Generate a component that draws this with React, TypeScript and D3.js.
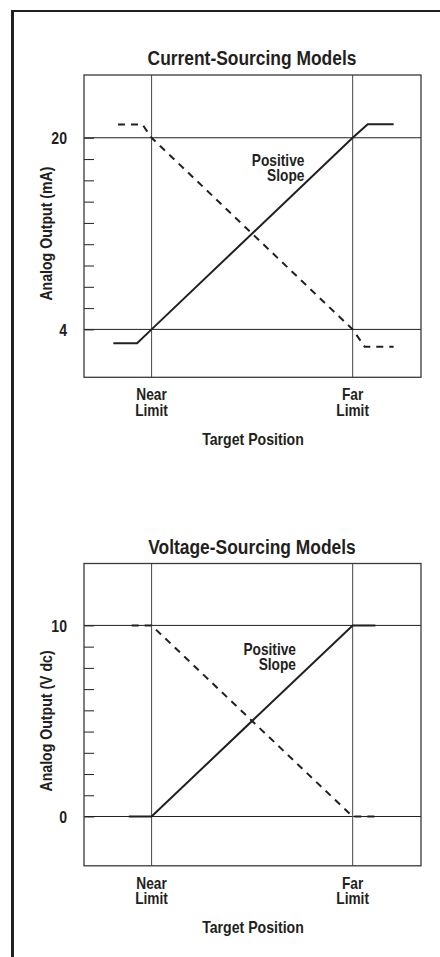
import React, { useEffect, useRef } from "react";
import * as d3 from "d3";

// target position in % of travel: near limit = 0, far limit = 100
const limitPositions = [0, 100];
const limitLabels = ["Near", "Far"];

const currentLabels = [4, 20];
const currentMinorTicks = 8;
const currentPositive = [
  { x: -19, y: 2.85 },
  { x: -7.2, y: 2.85 },
  { x: 0, y: 4 },
  { x: 100, y: 20 },
  { x: 107.5, y: 21.12 },
  { x: 120.4, y: 21.12 },
];
const currentNegative = [
  { x: -16.7, y: 21.1 },
  { x: -4.5, y: 21.1 },
  { x: 0, y: 20 },
  { x: 100, y: 4 },
  { x: 106, y: 2.55 },
  { x: 120.4, y: 2.55 },
];

const voltageLabels = [0, 10];
const voltageMinorTicks = 8;
const voltagePositive = [
  { x: -11.3, y: 0 },
  { x: 0, y: 0 },
  { x: 100, y: 10 },
  { x: 111.3, y: 10 },
];
const voltageNegative = [
  { x: -9.9, y: 10 },
  { x: 0, y: 10 },
  { x: 100, y: 0 },
  { x: 111.3, y: 0 },
];

const W = 440;
const H = 957;
const FONT = "'Liberation Sans','Arial',sans-serif";
const INK = "#231f20";

const drawPanel = (svg, o) => {
  const left = 84;
  const right = 421;
  const top = o.top;
  const bottom = o.top + 302.3;

  const x = d3.scaleLinear().domain([-33.6, 134]).range([left, right]);
  const y = d3.scaleLinear().domain(o.yDomain).range([bottom, top]);

  const g = svg.append("g");

  // title
  g.append("text")
    .attr("class", "title")
    .attr("x", 252)
    .attr("y", top - 10)
    .attr("text-anchor", "middle")
    .attr("font-size", 20)
    .text(o.title);

  // minor ticks, inside the box
  const [lo, hi] = d3.extent(o.labels);
  const ticks = d3.range(o.minor + 2).map((i) => lo + ((hi - lo) * i) / (o.minor + 1));
  const yaxis = d3.axisRight(y).tickValues(ticks).tickSize(10).tickFormat(() => "");
  const ga = g.append("g").attr("transform", `translate(${left},0)`).call(yaxis);
  ga.select(".domain").remove();
  ga.selectAll("text").remove();
  ga.selectAll("line").attr("stroke", INK).attr("stroke-width", 1);

  // grid lines at labelled values and at the limits
  g.selectAll(".hgrid")
    .data(o.labels)
    .join("line")
    .attr("x1", left)
    .attr("x2", right)
    .attr("y1", (d) => y(d))
    .attr("y2", (d) => y(d))
    .attr("stroke", INK)
    .attr("stroke-width", 1);
  g.selectAll(".vgrid")
    .data(limitPositions)
    .join("line")
    .attr("x1", (d) => x(d))
    .attr("x2", (d) => x(d))
    .attr("y1", top)
    .attr("y2", bottom)
    .attr("stroke", "#555")
    .attr("stroke-width", 1.1);

  // box
  g.append("rect")
    .attr("x", left)
    .attr("y", top)
    .attr("width", right - left)
    .attr("height", bottom - top)
    .attr("fill", "none")
    .attr("stroke", "#3a3a3a")
    .attr("stroke-width", 1.3);

  // y labels
  g.selectAll(".ylab")
    .data(o.labels)
    .join("text")
    .attr("x", 67)
    .attr("y", (d) => y(d))
    .attr("dy", "0.36em")
    .attr("text-anchor", "end")
    .attr("font-size", 17)
    .text((d) => d);

  const mid = (y(lo) + y(hi)) / 2;
  g.append("text")
    .attr("transform", `translate(52,${mid}) rotate(-90)`)
    .attr("text-anchor", "middle")
    .attr("font-size", 17)
    .text(o.yTitle);

  // limit labels
  limitPositions.forEach((p, i) => {
    g.append("text").attr("text-anchor", "middle").attr("font-size", 16.5)
      .attr("x", x(p)).attr("y", bottom + 23).text(limitLabels[i]);
    g.append("text").attr("text-anchor", "middle").attr("font-size", 16.5)
      .attr("x", x(p)).attr("y", bottom + 38.5).text("Limit");
  });
  g.append("text")
    .attr("x", 253)
    .attr("y", bottom + 67.5)
    .attr("text-anchor", "middle")
    .attr("font-size", 17)
    .text("Target Position");

  // positive slope label
  g.append("text").attr("text-anchor", "end").attr("font-size", 16.5)
    .attr("x", x(o.slopeX)).attr("y", top + 91).text("Positive");
  g.append("text").attr("text-anchor", "end").attr("font-size", 16.5)
    .attr("x", x(o.slopeX)).attr("y", top + 106).text("Slope");

  const line = d3
    .line()
    .x((d) => x(d.x))
    .y((d) => y(d.y));

  g.append("path")
    .attr("d", line(o.negative))
    .attr("fill", "none")
    .attr("stroke", INK)
    .attr("stroke-width", 2)
    .attr("stroke-dasharray", "7,6");
  g.append("path")
    .attr("d", line(o.positive))
    .attr("fill", "none")
    .attr("stroke", INK)
    .attr("stroke-width", 2);
};

const App = () => {
  const ref = useRef(null);

  useEffect(() => {
    const svg = d3.select(ref.current);
    svg.selectAll("*").remove();
    svg.attr("font-family", FONT).attr("font-weight", "bold").attr("fill", INK);

    // page frame
    svg.append("line").attr("x1", 11).attr("x2", W).attr("y1", 11).attr("y2", 11)
      .attr("stroke", INK).attr("stroke-width", 2);
    svg.append("line").attr("x1", 12.5).attr("x2", 12.5).attr("y1", 10).attr("y2", H)
      .attr("stroke", INK).attr("stroke-width", 3);

    drawPanel(svg, {
      top: 75,
      yDomain: [0, 25.24],
      labels: currentLabels,
      minor: currentMinorTicks,
      title: "Current-Sourcing Models",
      yTitle: "Analog Output (mA)",
      positive: currentPositive,
      negative: currentNegative,
      slopeX: 76,
    });
    drawPanel(svg, {
      top: 563.5,
      yDomain: [-2.58, 13.24],
      labels: voltageLabels,
      minor: voltageMinorTicks,
      title: "Voltage-Sourcing Models",
      yTitle: "Analog Output (V dc)",
      positive: voltagePositive,
      negative: voltageNegative,
      slopeX: 71.8,
    });

    // condensed look: squeeze the glyphs horizontally
    svg.selectAll("text").each(function () {
      const el = this;
      const k = el.getAttribute("class") === "title" ? 0.87 : 0.83;
      const len = el.getComputedTextLength();
      if (len > 0) {
        el.setAttribute("textLength", String(len * k));
        el.setAttribute("lengthAdjust", "spacingAndGlyphs");
      }
    });
  }, []);

  return (
    <svg
      ref={ref}
      width={W}
      height={H}
      style={{ position: "absolute", left: 0, top: 0, background: "#fff" }}
    />
  );
};

export default App;
